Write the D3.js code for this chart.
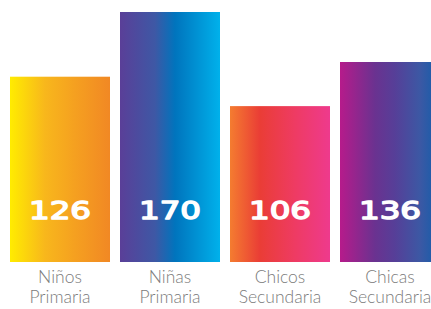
<!DOCTYPE html>
<html>
<head>
<meta charset="utf-8">
<script src="https://cdn.jsdelivr.net/npm/d3@7"></script>
<style>
  html, body { margin: 0; padding: 0; background: #fff; }
  svg { display: block; }
  .cat-label { font-family: Lato, "Open Sans", sans-serif; font-weight: 300; font-size: 17.5px; fill: #7b7b7b; }
  .val-label { font-family: "DejaVu Sans", sans-serif; font-weight: normal; font-size: 24px; fill: #fff;
               stroke: #fff; stroke-width: 1.4px; stroke-linejoin: round; stroke-linecap: round; }
</style>
</head>
<body>
<svg id="chart"></svg>
<script>
const width = 431;
const height = 309;

// data
const categories = ["Niños Primaria", "Niñas Primaria", "Chicos Secundaria", "Chicas Secundaria"];
const values = [126, 170, 106, 136];

// horizontal gradient stops for each bar
const gradients = [
  [[0, "#ffec00"], [0.35, "#f8b71c"], [0.65, "#f5a020"], [1, "#f18824"]],
  [[0, "#5a3f98"], [0.35, "#3e58a5"], [0.55, "#0074bd"], [1, "#00b1eb"]],
  [[0, "#f47c30"], [0.3, "#ea3d36"], [0.65, "#ee3b63"], [1, "#ee3a8d"]],
  [[0, "#b61b8b"], [0.35, "#6a3290"], [0.55, "#563f98"], [0.8, "#3c58a4"], [1, "#0f5fac"]]
];

const svg = d3.select("#chart")
    .attr("width", width)
    .attr("height", height);

const x = d3.scaleBand()
    .domain(categories)
    .range([10, 440])
    .paddingInner(10 / 110)
    .paddingOuter(0);

const y = d3.scaleLinear()
    .domain([0, 170])
    .range([262, 12]);

// gradient defs
const defs = svg.append("defs");
defs.selectAll("linearGradient")
  .data(gradients)
  .join("linearGradient")
    .attr("id", (d, i) => "grad" + i)
    .attr("x1", "0%").attr("x2", "100%")
    .attr("y1", "0%").attr("y2", "0%")
  .selectAll("stop")
  .data(d => d)
  .join("stop")
    .attr("offset", d => d[0])
    .attr("stop-color", d => d[1]);

const bars = svg.append("g")
  .selectAll("g")
  .data(categories)
  .join("g");

bars.append("rect")
    .attr("x", d => x(d))
    .attr("y", (d, i) => y(values[i]))
    .attr("width", x.bandwidth())
    .attr("height", (d, i) => y(0) - y(values[i]))
    .attr("fill", (d, i) => `url(#grad${i})`);

// value labels inside bars
bars.append("text")
    .attr("class", "val-label")
    .attr("x", d => x(d) + x.bandwidth() / 2)
    .attr("y", y(0) - 43)
    .attr("text-anchor", "middle")
    .attr("textLength", 62)
    .attr("lengthAdjust", "spacingAndGlyphs")
    .text((d, i) => values[i]);

// category labels, one text per line
bars.selectAll("text.cat-label")
  .data(d => d.split(" ").map(w => ({w, cx: x(d) + x.bandwidth() / 2})))
  .join("text")
    .attr("class", "cat-label")
    .attr("text-anchor", "middle")
    .attr("x", d => d.cx)
    .attr("y", (d, i) => 283 + i * 20)
    .text(d => d.w);
</script>
</body>
</html>
